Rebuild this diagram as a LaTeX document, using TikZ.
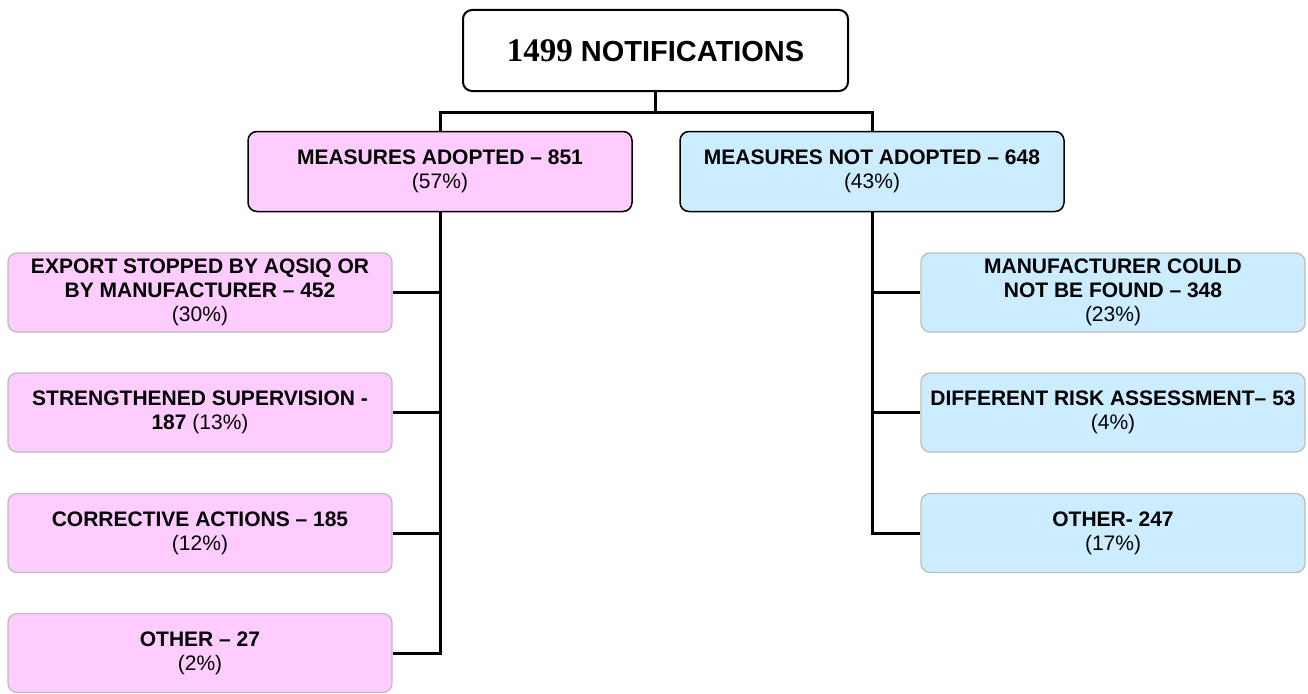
\documentclass[tikz,border=0pt]{standalone}
\usepackage{fontspec}
\setmainfont{Liberation Sans}
\newfontfamily\timesfont{Liberation Serif}
\definecolor{pinkfill}{HTML}{FFCCFF}
\definecolor{bluefill}{HTML}{CCECFF}
\definecolor{grayedge}{HTML}{BDBDBD}
\begin{document}
\begin{tikzpicture}[x=1pt,y=-1pt,
  box/.style={rectangle,rounded corners=9pt,align=center,inner sep=0pt,
    font=\fontsize{21}{24}\selectfont},
  topbox/.style={box,draw=black,line width=2pt,fill=white,minimum width=385pt,minimum height=81pt},
  lvlone/.style={box,draw=black,line width=1.5pt,minimum width=384pt,minimum height=80pt},
  lvltwo/.style={box,draw=grayedge,line width=1.3pt,minimum width=384pt,minimum height=79pt},
  conn/.style={line width=3pt}]
\useasboundingbox (0,0) rectangle (1308,693);
\node[topbox] (top) at (655.5,50.5) {{\fontsize{33}{36}\selectfont\timesfont\bfseries 1499}\fontsize{29}{32}\selectfont\bfseries\ NOTIFICATIONS};
\node[lvlone,fill=pinkfill] (ma) at (440,171.5) {\bfseries MEASURES ADOPTED – 851\\(57\%)};
\node[lvlone,fill=bluefill] (mn) at (872,171.5) {\bfseries MEASURES NOT ADOPTED – 648\\(43\%)};
\node[lvltwo,fill=pinkfill] (l1) at (200,292.5) {\bfseries EXPORT STOPPED BY AQSIQ OR\\\bfseries BY MANUFACTURER – 452\\(30\%)};
\node[lvltwo,fill=pinkfill] (l2) at (200,412.5) {\bfseries STRENGTHENED SUPERVISION -\\\textbf{187} (13\%)};
\node[lvltwo,fill=pinkfill] (l3) at (200,533) {\bfseries CORRECTIVE ACTIONS – 185\\(12\%)};
\node[lvltwo,fill=pinkfill] (l4) at (200,653) {\bfseries OTHER – 27\\(2\%)};
\node[lvltwo,fill=bluefill] (r1) at (1113,292.5) {\bfseries MANUFACTURER COULD\\\bfseries NOT BE FOUND – 348\\(23\%)};
\node[lvltwo,fill=bluefill] (r2) at (1113,412.5) {\bfseries DIFFERENT RISK ASSESSMENT– 53\\(4\%)};
\node[lvltwo,fill=bluefill] (r3) at (1113,533) {\bfseries OTHER- 247\\(17\%)};
\coordinate (hub) at (655.5,112);
\draw[conn] (top.south) -- (hub);
\draw[conn] (ma.north) |- (hub) -| (mn.north);
\draw[conn] (ma.south) |- (l4.east);
\draw[conn] (l1.east) -- (ma.south |- l1.east);
\draw[conn] (l2.east) -- (ma.south |- l2.east);
\draw[conn] (l3.east) -- (ma.south |- l3.east);
\draw[conn] (mn.south) |- (r3.west);
\draw[conn] (r1.west) -- (mn.south |- r1.west);
\draw[conn] (r2.west) -- (mn.south |- r2.west);
\end{tikzpicture}
\end{document}
